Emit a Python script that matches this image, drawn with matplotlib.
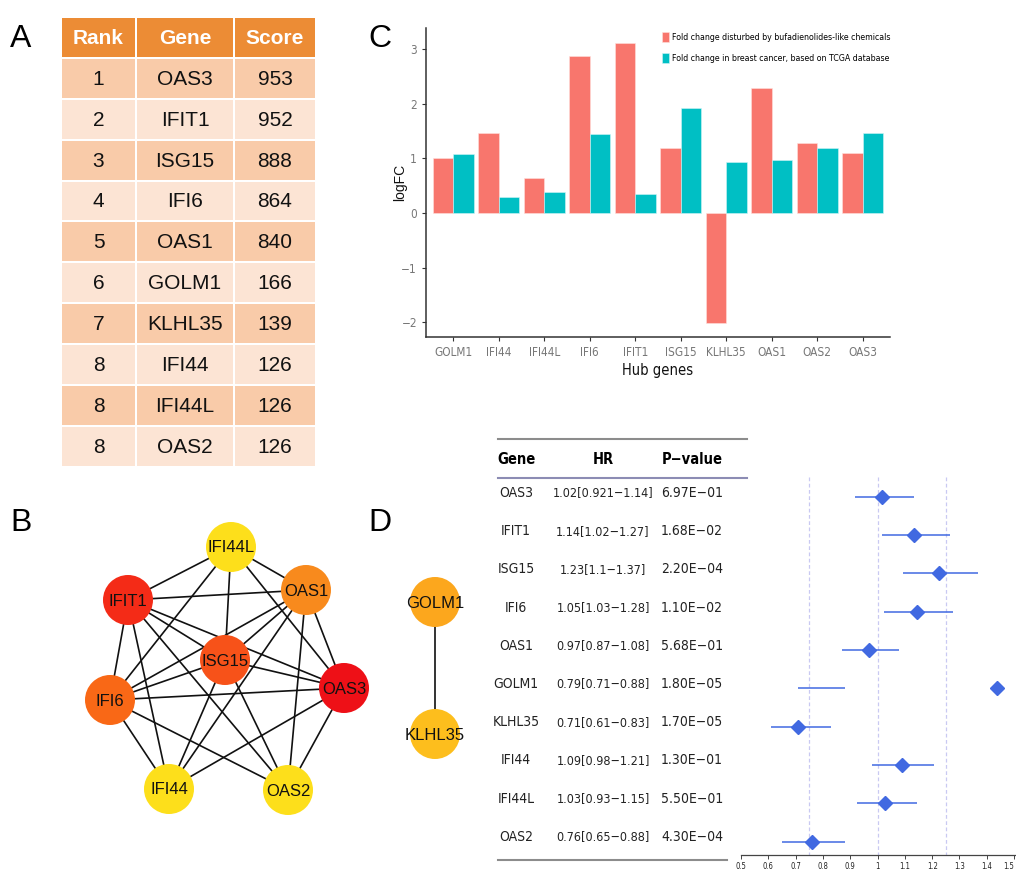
import numpy as np
import matplotlib
matplotlib.use('Agg')
import matplotlib.pyplot as plt
from matplotlib.patches import Rectangle, Circle

#%% data

# A: hub gene ranking table
rank = [1, 2, 3, 4, 5, 6, 7, 8, 8, 8]
rank_genes = ['OAS3', 'IFIT1', 'ISG15', 'IFI6', 'OAS1', 'GOLM1', 'KLHL35', 'IFI44', 'IFI44L', 'OAS2']
scores = [953, 952, 888, 864, 840, 166, 139, 126, 126, 126]

# B: network
net_nodes = ['IFI44L', 'OAS1', 'IFIT1', 'ISG15', 'OAS3', 'IFI6', 'IFI44', 'OAS2', 'GOLM1', 'KLHL35']
net_colors = ['#FDDF1B', '#F88A1D', '#F42B17', '#F75219', '#EE1017', '#F96816',
              '#FDDF1B', '#FDDF1B', '#FCA71D', '#FDBE1D']
hub8 = net_nodes[:8]
missing_edges = [('IFI44L', 'IFI44'), ('IFI44L', 'OAS2'), ('IFI44', 'OAS2')]
net_edges = [(a, b) for i, a in enumerate(hub8) for b in hub8[i+1:]
             if (a, b) not in missing_edges and (b, a) not in missing_edges]
net_edges.append(('GOLM1', 'KLHL35'))

# C: logFC bar chart
hub_genes = ['GOLM1', 'IFI44', 'IFI44L', 'IFI6', 'IFIT1', 'ISG15', 'KLHL35', 'OAS1', 'OAS2', 'OAS3']
fc_chem = [1.01, 1.47, 0.65, 2.87, 3.12, 1.20, -2.02, 2.29, 1.29, 1.10]
fc_tcga = [1.08, 0.29, 0.39, 1.45, 0.35, 1.93, 0.93, 0.98, 1.20, 1.47]
legend_labels = ['Fold change disturbed by bufadienolides-like chemicals',
                 'Fold change in breast cancer, based on TCGA database']

# D: forest plot
forest_genes = ['OAS3', 'IFIT1', 'ISG15', 'IFI6', 'OAS1', 'GOLM1', 'KLHL35', 'IFI44', 'IFI44L', 'OAS2']
hr_text = ['1.02[0.921\u22121.14]', '1.14[1.02\u22121.27]', '1.23[1.1\u22121.37]', '1.05[1.03\u22121.28]',
           '0.97[0.87\u22121.08]', '0.79[0.71\u22120.88]', '0.71[0.61\u22120.83]', '1.09[0.98\u22121.21]',
           '1.03[0.93\u22121.15]', '0.76[0.65\u22120.88]']
p_text = ['6.97E\u221201', '1.68E\u221202', '2.20E\u221204', '1.10E\u221202', '5.68E\u221201',
          '1.80E\u221205', '1.70E\u221205', '1.30E\u221201', '5.50E\u221201', '4.30E\u221204']
hr_point = [1.018, 1.135, 1.226, 1.146, 0.967, 1.438, 0.708, 1.088, 1.026, 0.759]
ci_low = [0.916, 1.015, 1.095, 1.025, 0.869, 0.708, 0.610, 0.978, 0.926, 0.650]
ci_high = [1.135, 1.267, 1.368, 1.277, 1.077, 0.880, 0.828, 1.206, 1.146, 0.880]
forest_ticks = [0.5, 0.6, 0.7, 0.8, 0.9, 1.0, 1.1, 1.2, 1.3, 1.4, 1.5]
forest_ticklabels = ['0.5', '0.6', '0.7', '0.8', '0.9', '1', '1.1', '1.2', '1.3', '1.4', '1.5']

#%% figure
W, H = 1016, 877
fig = plt.figure(figsize=(W/100, H/100), dpi=100)
arial = ['Liberation Sans', 'DejaVu Sans']
# condensed look for the plot texts
narrow = dict(family='DejaVu Sans', stretch='condensed')

# overlay axes in pixel coordinates
ov = fig.add_axes([0, 0, 1, 1])
ov.set_xlim(0, W)
ov.set_ylim(H, 0)
ov.axis('off')
ov.patch.set_visible(False)

for lab, (lx, ly) in zip('ABCD', [(10, 47), (10, 531), (368, 47), (368, 531)]):
    ov.text(lx, ly, lab, fontsize=23, family=arial, va='baseline', ha='left')

#%% A table
col_x = [(62, 135), (137, 233), (235, 315)]
ov_headers = ['Rank', 'Gene', 'Score']
for (x0, x1), hd in zip(col_x, ov_headers):
    ov.add_patch(Rectangle((x0, 18), x1 - x0, 39, facecolor='#EC8C35', edgecolor='none'))
    ov.text((x0 + x1)/2, 38.5, hd, color='white', fontsize=15, fontweight='bold',
            family=arial, ha='center', va='center')
row_step = 40.85
for i in range(len(rank)):
    y0 = 59 + i*row_step
    fc = '#F9CBA9' if i % 2 == 0 else '#FCE4D4'
    vals = [str(rank[i]), rank_genes[i], str(scores[i])]
    for (x0, x1), v in zip(col_x, vals):
        ov.add_patch(Rectangle((x0, y0), x1 - x0, row_step - 2, facecolor=fc, edgecolor='none'))
        ov.text((x0 + x1)/2, y0 + (row_step - 2)/2 + 1, v, color='#111111', fontsize=15,
                family=arial, ha='center', va='center')

#%% B network
node_pos = {'IFI44L': (231, 547), 'OAS1': (306, 590), 'IFIT1': (128, 600), 'ISG15': (225, 660),
            'OAS3': (344, 688), 'IFI6': (110, 700), 'IFI44': (169, 789), 'OAS2': (288, 790),
            'GOLM1': (435, 602), 'KLHL35': (435, 734)}
for a, b in net_edges:
    (xa, ya), (xb, yb) = node_pos[a], node_pos[b]
    ov.plot([xa, xb], [ya, yb], color='#111111', lw=1.2, zorder=2)
for n, c in zip(net_nodes, net_colors):
    x, y = node_pos[n]
    ov.add_patch(Circle((x, y), 25, facecolor=c, edgecolor='none', zorder=3))
    ov.text(x, y + 1, n, fontsize=12, family=arial, ha='center', va='center', zorder=4,
            color='#111111')

#%% C bar chart
axc = fig.add_axes([426/W, 1 - 337/H, (890 - 426)/W, (337 - 28)/H])
xpos = np.arange(len(hub_genes))
axc.bar(xpos - 0.225, fc_chem, 0.45, color='#F8766D', edgecolor='#FFE0DD', linewidth=0.4,
        label=legend_labels[0])
axc.bar(xpos + 0.225, fc_tcga, 0.45, color='#00BFC4', edgecolor='#D0F5F6', linewidth=0.4,
        label=legend_labels[1])
axc.set_xlim(-0.6, 9.6)
axc.set_ylim(-2.27, 3.39)
axc.set_yticks([-2, -1, 0, 1, 2, 3])
axc.set_xticks(xpos)
axc.set_xticklabels(hub_genes)
for s in ['top', 'right']:
    axc.spines[s].set_visible(False)
for s in ['left', 'bottom']:
    axc.spines[s].set_color('#333333')
    axc.spines[s].set_linewidth(1.1)
axc.tick_params(colors='#333333', length=3, width=0.8, labelsize=8.5, labelcolor='#777777')
for t in axc.get_xticklabels() + axc.get_yticklabels():
    t.set_family(narrow['family'])
    t.set_stretch(narrow['stretch'])
axc.set_xlabel('Hub genes', fontsize=10.5, labelpad=3, color='#111111', **narrow)
axc.set_ylabel('logFC', fontsize=10, family=arial, labelpad=-4, color='#111111')
axc.legend(loc='upper left', bbox_to_anchor=(0.50, 1.0), frameon=False,
           prop={'family': 'DejaVu Sans', 'stretch': 'condensed', 'size': 6.3},
           handlelength=0.9, handleheight=1.5, handletextpad=0.3, labelspacing=1.2,
           borderaxespad=0.0)

#%% D table
row_y = [493 + 38.2*i for i in range(len(forest_genes))]
ov.plot([498, 747], [439, 439], color='#8C8C8C', lw=1.5)
ov.plot([498, 747], [478, 478], color='#8C8CB4', lw=1.5)
ov.plot([498, 727], [860, 860], color='#8C8C8C', lw=1.5)
for hx, hd in zip([516, 603, 692], ['Gene', 'HR', 'P\u2212value']):
    ov.text(hx, 459, hd, fontsize=10.5, fontweight='bold', ha='center', va='center', **narrow)
for y, g, hr, p in zip(row_y, forest_genes, hr_text, p_text):
    ov.text(516, y, g, fontsize=10, ha='center', va='center', color='#222222', **narrow)
    ov.text(603, y, hr, fontsize=9, ha='center', va='center', color='#222222', **narrow)
    ov.text(692, y, p, fontsize=10, ha='center', va='center', color='#222222', **narrow)

#%% D forest
axf = fig.add_axes([741/W, 1 - 855/H, (W - 741)/W, (855 - 440)/H])
axf.patch.set_visible(False)
rows = np.arange(len(forest_genes))
axf.set_xlim(0.5, 1.507)
axf.set_ylim(9.45, -1.38)
for xv in [0.75, 1.0, 1.25]:
    axf.vlines(xv, -0.42, 9.45, colors='#C9C9F2', linestyles=(0, (3, 2)), lw=0.9)
axf.hlines(rows + 0.1, ci_low, ci_high, colors='#4169E1', lw=1.1)
axf.plot(hr_point, rows + 0.1, 'D', color='#4169E1', ms=7, mec='#4169E1')
for s in ['top', 'right', 'left']:
    axf.spines[s].set_visible(False)
axf.spines['bottom'].set_color('#444444')
axf.spines['bottom'].set_linewidth(0.9)
axf.set_yticks([])
axf.set_xticks(forest_ticks)
axf.set_xticklabels(forest_ticklabels)
axf.tick_params(axis='x', length=3, width=0.7, colors='#444444', labelsize=5.5, pad=2,
                labelcolor='#222222')
for t in axf.get_xticklabels():
    t.set_family(narrow['family'])
    t.set_stretch(narrow['stretch'])
# keep the last label inside the figure
axf.get_xticklabels()[-1].set_horizontalalignment('right')

fig.savefig('out.png', dpi=100)
